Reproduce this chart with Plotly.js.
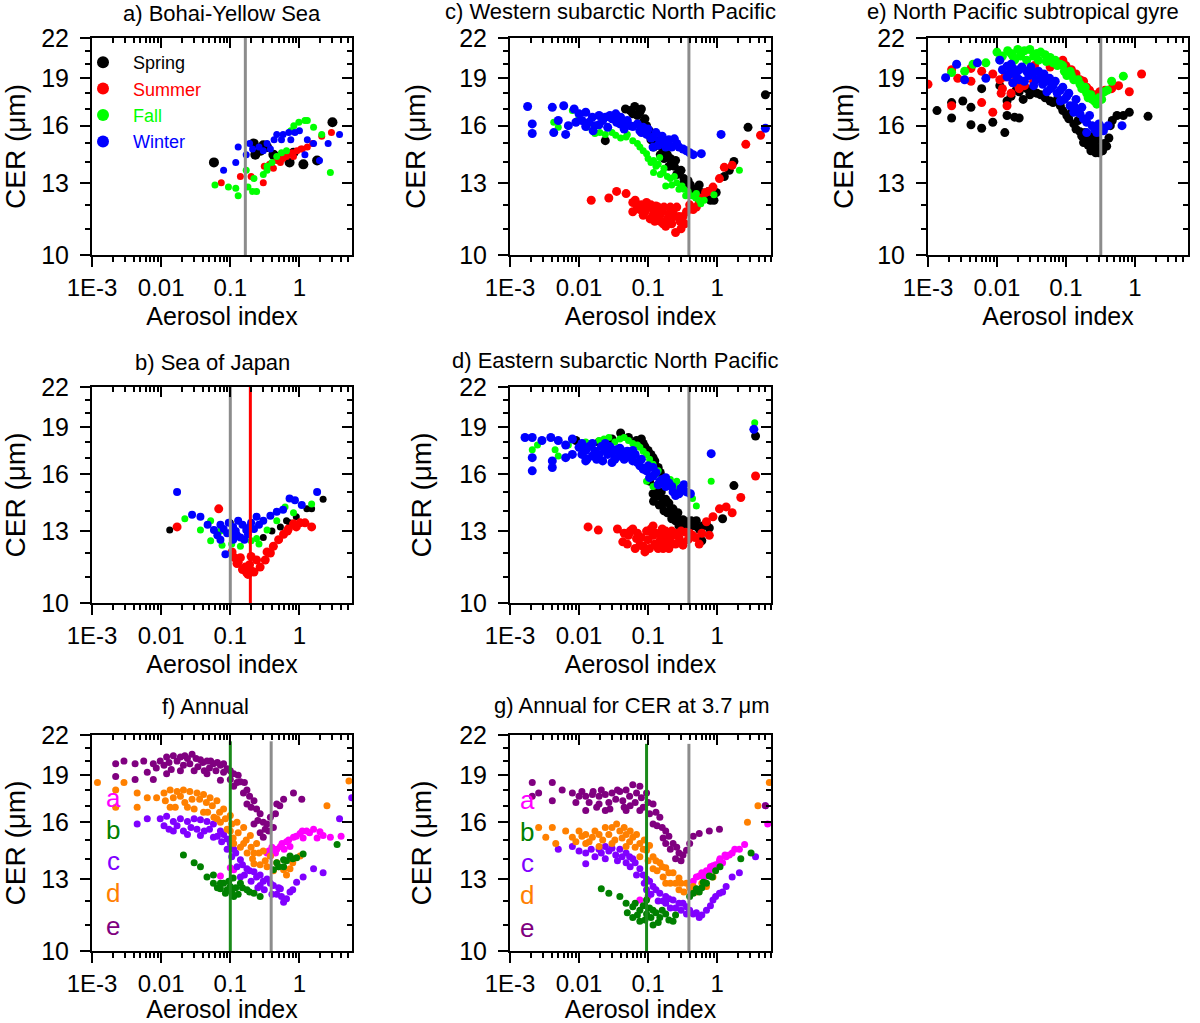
<!DOCTYPE html>
<html>
<head>
<meta charset="utf-8">
<script src="https://cdn.plot.ly/plotly-3.0.1.min.js"></script>
<style>
  body { margin: 0; background: #fff; }
  #chart { width: 1200px; height: 1023px; }
</style>
</head>
<body>
<div id="chart"></div>
<script>
// ---- tick labels / categories ----
const xTickVals = [0.001, 0.01, 0.1, 1];
const xTickText = ['1E-3', '0.01', '0.1', '1'];
const xMinorVals = [0.002, 0.003, 0.004, 0.005, 0.006, 0.007, 0.008, 0.009,
                    0.02, 0.03, 0.04, 0.05, 0.06, 0.07, 0.08, 0.09,
                    0.2, 0.3, 0.4, 0.5, 0.6, 0.7, 0.8, 0.9,
                    2, 3, 4, 5, 6, 7, 8, 9];
const yTickVals = [10, 13, 16, 19, 22];
const yMinorVals = [11, 12, 14, 15, 17, 18, 20, 21];

const seasons = ['Spring', 'Summer', 'Fall', 'Winter'];
const seasonColors = ['#000000', '#ff0000', '#00ff00', '#0000ff'];
const regions = ['a', 'b', 'c', 'd', 'e'];
const regionColors = ['#ff00ff', '#008000', '#8000ff', '#ff8000', '#800080'];

// ---- a) Bohai-Yellow Sea ----
const aSpringX = [0.058, 0.218, 0.23, 0.27, 0.3, 0.34, 0.42, 0.56, 0.72, 0.82, 1.14, 1.8, 3.0];
const aSpringY = [14.0, 15.0, 14.4, 14.6, 14.9, 14.8, 14.4, 14.3, 14.0, 14.5, 13.9, 14.1, 16.2];
const aSummerX = [0.074, 0.14, 0.2, 0.3, 0.31, 0.37, 0.42, 0.47, 0.53, 0.58, 0.65, 0.78, 0.82, 0.92, 1.05, 1.1, 1.3, 1.55, 2.1, 2.9];
const aSummerY = [13.0, 13.3, 13.3, 13.0, 13.8, 13.9, 13.7, 14.1, 14.0, 14.2, 14.3, 14.5, 14.3, 14.6, 14.7, 14.7, 14.8, 15.0, 15.4, 15.6];
const aFallX = [0.06, 0.094, 0.12, 0.13, 0.17, 0.18, 0.21, 0.22, 0.24, 0.3, 0.34, 0.34, 0.4, 0.47, 0.55, 0.65, 0.75, 0.83, 0.98, 1.2, 1.3, 1.6, 2.1, 2.8];
const aFallY = [12.9, 12.8, 12.75, 12.4, 13.6, 12.8, 12.6, 13.2, 12.6, 13.4, 13.6, 13.8, 14.0, 14.3, 14.5, 14.6, 15.7, 16.0, 16.2, 16.3, 16.3, 15.9, 15.5, 13.5];
const aWinterX = [0.08, 0.12, 0.13, 0.17, 0.19, 0.21, 0.26, 0.3, 0.34, 0.38, 0.43, 0.47, 0.55, 0.58, 0.7, 0.75, 0.86, 1.0, 1.2, 1.3, 1.6, 1.95, 2.6, 3.8];
const aWinterY = [13.6, 14.0, 14.8, 14.4, 15.0, 14.7, 14.8, 14.6, 15.0, 14.7, 15.2, 15.5, 15.2, 15.5, 15.6, 15.2, 15.6, 15.7, 14.4, 15.2, 15.0, 14.1, 15.0, 15.5];

// ---- b) Sea of Japan ----
const bSpringX = [0.0133, 0.1, 0.13, 0.3, 0.4, 0.53, 0.65, 0.72, 0.9, 1.28, 1.5, 2.2];
const bSpringY = [13.05, 13.4, 13.5, 12.7, 13.0, 13.2, 13.5, 13.4, 13.7, 14.1, 14.1, 14.6];
const bSummerX = [0.017, 0.068, 0.106, 0.125, 0.14, 0.165, 0.17, 0.2, 0.24, 0.27, 0.32, 0.34, 0.38, 0.42, 0.5, 0.59, 0.67, 0.69, 0.82, 0.9, 1.02, 1.2, 1.5, 0.115, 0.13, 0.15, 0.18, 0.19, 0.22, 0.2];
const bSummerY = [13.2, 14.1, 12.05, 11.55, 11.8, 11.4, 11.2, 11.25, 11.7, 11.4, 11.7, 12.05, 12.0, 12.3, 12.6, 12.85, 13.0, 13.1, 13.35, 13.2, 13.4, 13.4, 13.2, 11.8, 11.6, 11.3, 11.1, 11.5, 11.2, 11.85];
const bFallX = [0.022, 0.037, 0.052, 0.052, 0.072, 0.076, 0.105, 0.14, 0.2, 0.24, 0.26, 0.34, 0.47, 0.62, 0.82, 1.5];
const bFallY = [13.6, 13.05, 13.5, 12.55, 13.0, 12.35, 12.4, 12.3, 12.55, 12.65, 12.4, 13.05, 13.5, 14.2, 13.9, 14.35];
const bWinterX = [0.017, 0.028, 0.037, 0.047, 0.058, 0.065, 0.072, 0.072, 0.085, 0.09, 0.095, 0.11, 0.11, 0.12, 0.125, 0.13, 0.15, 0.16, 0.17, 0.18, 0.2, 0.22, 0.24, 0.3, 0.38, 0.47, 0.58, 0.72, 0.86, 1.08, 1.8, 0.08, 0.1, 0.14, 0.19, 0.26];
const bWinterY = [15.0, 13.8, 13.7, 13.3, 13.05, 12.8, 13.3, 12.6, 11.95, 12.9, 13.4, 13.2, 12.6, 13.0, 12.8, 13.5, 13.3, 12.6, 13.05, 12.85, 13.4, 13.1, 13.7, 13.5, 13.75, 13.95, 14.05, 14.65, 14.55, 14.3, 15.0, 13.1, 12.9, 12.7, 13.2, 13.3];

// ---- c) Western subarctic North Pacific ----
const cSpringX = [0.024, 0.047, 0.06, 0.064, 0.076, 0.09, 0.105, 0.118, 0.13, 0.165, 0.18, 0.21, 0.24, 0.25, 0.28, 0.31, 0.33, 0.38, 0.41, 0.44, 0.55, 0.59, 0.68, 0.8, 0.97, 1.27, 1.5, 1.75, 2.8, 5.0,
  0.055, 0.07, 0.08, 0.085, 0.095, 0.11, 0.12, 0.14, 0.15, 0.17, 0.19, 0.2, 0.22, 0.26, 0.3, 0.35, 0.36, 0.45, 0.5, 0.65, 0.75, 0.9];
const cSpringY = [15.15, 17.0, 16.7, 17.15, 16.8, 16.4, 15.7, 15.45, 15.15, 14.6, 14.8, 14.2, 13.8, 14.1, 13.5, 12.9, 13.2, 13.1, 12.9, 12.45, 12.9, 12.55, 12.45, 12.2, 12.55, 13.3, 13.6, 14.05, 15.9, 17.9,
  16.9, 16.6, 17.0, 16.2, 16.0, 15.2, 14.8, 14.9, 14.4, 14.2, 14.4, 13.8, 13.9, 13.4, 13.6, 12.8, 13.0, 12.7, 12.6, 12.3, 12.6, 12.2];
const cSummerX = [0.015, 0.027, 0.035, 0.048, 0.06, 0.06, 0.076, 0.085, 0.095, 0.107, 0.12, 0.13, 0.148, 0.165, 0.19, 0.23, 0.25, 0.29, 0.3, 0.36, 0.45, 0.55, 0.68, 0.87, 1.08, 1.27, 1.65, 2.6, 4.25,
  0.065, 0.07, 0.08, 0.09, 0.1, 0.11, 0.115, 0.125, 0.14, 0.15, 0.16, 0.17, 0.18, 0.2, 0.21, 0.22, 0.24, 0.26, 0.28, 0.32, 0.34, 0.4, 0.5, 0.6, 0.75];
const cSummerY = [12.2, 12.3, 12.6, 12.5, 12.1, 11.7, 11.8, 11.55, 12.1, 11.4, 11.7, 11.95, 11.55, 11.2, 11.4, 11.7, 10.85, 11.3, 11.0, 11.7, 11.8, 12.1, 12.55, 12.8, 13.2, 13.75, 13.85, 14.95, 15.45,
  12.2, 11.9, 12.0, 11.7, 11.9, 12.0, 11.5, 11.3, 11.9, 11.3, 11.7, 11.9, 11.1, 11.6, 11.9, 11.2, 11.5, 11.9, 11.5, 11.5, 11.2, 12.0, 11.9, 12.3, 12.6];
const cFallX = [0.0043, 0.005, 0.008, 0.01, 0.013, 0.017, 0.024, 0.034, 0.048, 0.06, 0.076, 0.095, 0.12, 0.12, 0.13, 0.147, 0.165, 0.18, 0.21, 0.26, 0.31, 0.38, 0.49, 0.58, 0.9, 2.1,
  0.02, 0.03, 0.04, 0.05, 0.07, 0.085, 0.1, 0.11, 0.14, 0.15, 0.17, 0.19, 0.22, 0.24, 0.28, 0.33, 0.35, 0.42, 0.5, 0.55, 0.65];
const cFallY = [16.2, 15.9, 16.9, 16.5, 15.9, 15.55, 15.5, 15.45, 15.35, 15.15, 14.8, 14.45, 14.1, 13.5, 13.8, 14.25, 13.5, 12.85, 13.2, 13.0, 12.85, 12.6, 12.3, 12.05, 12.45, 13.6,
  15.6, 15.6, 15.3, 15.5, 15.0, 14.6, 14.2, 14.0, 13.9, 13.4, 13.7, 13.3, 12.9, 13.3, 12.7, 12.7, 12.4, 12.4, 12.5, 12.2, 12.2];
const cWinterX = [0.0018, 0.0021, 0.0021, 0.0041, 0.0043, 0.006, 0.0064, 0.0085, 0.01, 0.0125, 0.0125, 0.0156, 0.0195, 0.0195, 0.024, 0.03, 0.034, 0.039, 0.048, 0.06, 0.076, 0.095, 0.118, 0.118, 0.148, 0.18, 0.18, 0.24, 0.28, 0.36, 0.45, 0.59, 1.14, 5.0,
  0.005, 0.007, 0.009, 0.011, 0.014, 0.016, 0.017, 0.022, 0.026, 0.028, 0.035, 0.04, 0.045, 0.05, 0.055, 0.07, 0.08, 0.085, 0.1, 0.11, 0.13, 0.14, 0.16, 0.2, 0.22, 0.26, 0.32, 0.4];
const cWinterY = [17.15, 15.55, 16.1, 17.1, 15.6, 17.2, 15.5, 17.0, 16.7, 16.8, 15.95, 16.5, 16.6, 16.05, 16.5, 16.4, 16.7, 16.1, 16.05, 15.95, 15.7, 15.5, 15.35, 14.8, 15.15, 15.05, 14.8, 15.25, 14.8, 14.6, 14.4, 14.45, 15.5, 15.85,
  16.3, 16.0, 16.2, 16.3, 16.2, 15.7, 16.0, 16.3, 15.9, 16.6, 16.2, 16.5, 15.8, 16.3, 16.0, 16.1, 15.6, 15.9, 15.8, 15.3, 15.6, 14.9, 15.4, 15.2, 14.8, 15.0, 14.7, 14.5];

// ---- d) Eastern subarctic North Pacific ----
const dSpringX = [0.009, 0.0195, 0.03, 0.04, 0.052, 0.068, 0.085, 0.1, 0.105, 0.118, 0.118, 0.13, 0.14, 0.148, 0.165, 0.165, 0.21, 0.24, 0.26, 0.28, 0.32, 0.35, 0.38, 0.48, 0.6, 0.62, 0.77, 1.2, 1.75, 3.6,
  0.12, 0.13, 0.145, 0.155, 0.17, 0.18, 0.19, 0.2, 0.22, 0.23, 0.25, 0.27, 0.3, 0.34, 0.4, 0.42, 0.5, 0.55, 0.7, 0.08, 0.09, 0.11, 0.125, 0.15];
const dSpringY = [18.1, 18.0, 18.2, 18.6, 18.3, 18.1, 17.9, 17.45, 15.6, 17.0, 14.9, 14.9, 16.4, 14.75, 15.8, 14.4, 14.05, 13.7, 13.8, 13.25, 13.55, 13.4, 13.45, 13.25, 12.55, 13.25, 13.15, 13.6, 15.35, 18.4,
  14.5, 15.3, 14.3, 15.0, 14.0, 14.6, 13.9, 14.4, 13.6, 14.1, 13.5, 13.9, 13.4, 13.2, 13.2, 13.5, 13.5, 13.1, 13.3, 18.2, 17.7, 17.2, 16.8, 16.1];
const dSummerX = [0.0135, 0.019, 0.036, 0.043, 0.052, 0.06, 0.068, 0.076, 0.09, 0.095, 0.118, 0.118, 0.148, 0.165, 0.18, 0.21, 0.23, 0.28, 0.32, 0.35, 0.44, 0.55, 0.7, 0.77, 0.87, 1.08, 1.35, 1.65, 2.2, 3.6,
  0.045, 0.05, 0.055, 0.065, 0.07, 0.08, 0.085, 0.1, 0.105, 0.11, 0.125, 0.13, 0.14, 0.155, 0.16, 0.17, 0.19, 0.2, 0.22, 0.25, 0.26, 0.3, 0.3, 0.38, 0.4, 0.48, 0.6];
const dSummerY = [13.2, 13.05, 13.1, 12.5, 12.8, 13.1, 12.65, 12.35, 12.05, 13.0, 12.8, 13.25, 12.55, 12.2, 13.0, 12.5, 12.8, 12.7, 12.35, 12.95, 12.8, 12.4, 13.45, 12.8, 13.7, 14.1, 14.2, 13.9, 14.7, 15.9,
  12.9, 12.4, 13.0, 12.2, 12.9, 12.7, 12.3, 12.6, 12.2, 13.1, 12.4, 12.9, 12.2, 12.8, 13.1, 12.4, 12.7, 12.2, 13.0, 12.4, 12.9, 12.5, 13.0, 12.6, 12.9, 12.7, 12.9];
const dFallX = [0.0021, 0.0025, 0.0045, 0.005, 0.007, 0.0125, 0.0195, 0.027, 0.039, 0.052, 0.076, 0.095, 0.095, 0.118, 0.118, 0.13, 0.165, 0.21, 0.26, 0.32, 0.44, 0.5, 0.82, 3.5,
  0.015, 0.023, 0.033, 0.045, 0.06, 0.07, 0.085, 0.105, 0.14, 0.18, 0.24, 0.28];
const dFallY = [17.5, 17.8, 17.5, 17.1, 17.8, 18.0, 18.1, 18.3, 18.2, 18.1, 17.65, 17.2, 15.6, 16.6, 15.3, 16.0, 15.6, 15.7, 15.6, 15.3, 14.65, 14.25, 15.6, 19.3,
  17.9, 18.2, 18.0, 18.3, 17.9, 17.8, 17.4, 16.9, 16.2, 15.6, 15.4, 15.2];
const dWinterX = [0.00165, 0.0021, 0.0021, 0.0021, 0.0029, 0.0039, 0.0041, 0.0041, 0.005, 0.0064, 0.0064, 0.008, 0.008, 0.01, 0.0125, 0.0125, 0.0156, 0.0156, 0.0195, 0.024, 0.024, 0.03, 0.03, 0.039, 0.039, 0.048, 0.06, 0.06, 0.076, 0.095, 0.118, 0.118, 0.148, 0.18, 0.18, 0.23, 0.28, 0.33, 0.41, 0.82, 3.4,
  0.011, 0.011, 0.013, 0.014, 0.017, 0.018, 0.021, 0.022, 0.026, 0.028, 0.033, 0.035, 0.042, 0.045, 0.05, 0.055, 0.065, 0.07, 0.08, 0.085, 0.1, 0.105, 0.13, 0.14, 0.16, 0.2, 0.22, 0.25, 0.3, 0.36];
const dWinterY = [18.3, 18.3, 17.0, 16.2, 18.1, 18.3, 16.8, 16.4, 18.1, 17.8, 17.0, 18.2, 17.2, 17.65, 17.45, 16.8, 17.1, 17.9, 17.2, 17.45, 17.9, 17.3, 16.7, 17.1, 17.6, 17.0, 16.8, 17.45, 16.5, 16.2, 15.9, 16.4, 15.6, 15.3, 15.8, 15.0, 14.9, 15.4, 14.9, 17.25, 18.85,
  17.9, 17.2, 16.9, 17.7, 17.4, 16.9, 17.7, 16.8, 17.2, 17.7, 16.9, 17.5, 17.4, 16.9, 17.4, 17.1, 17.2, 16.7, 16.9, 16.3, 16.5, 15.8, 16.1, 15.4, 15.7, 15.5, 15.3, 14.8, 15.2, 15.0];

// ---- e) North Pacific subtropical gyre ----
const eSpringX = [0.00135, 0.0022, 0.0022, 0.0032, 0.0042, 0.0042, 0.006, 0.006, 0.0087, 0.011, 0.013, 0.014, 0.014, 0.018, 0.021, 0.021, 0.027, 0.034, 0.043, 0.059, 0.083, 0.103, 0.13, 0.16, 0.18, 0.2, 0.23, 0.26, 0.29, 0.32, 0.39, 0.47, 0.55, 0.68, 0.83, 1.55,
  0.016, 0.019, 0.024, 0.03, 0.038, 0.05, 0.065, 0.075, 0.09, 0.11, 0.12, 0.14, 0.15, 0.17, 0.19, 0.21, 0.22, 0.24, 0.25, 0.27, 0.28, 0.3, 0.34, 0.36, 0.42, 0.44];
const eSpringY = [16.9, 16.45, 17.4, 17.5, 16.05, 17.1, 15.85, 18.3, 16.2, 18.5, 15.6, 16.6, 17.5, 16.5, 16.45, 18.1, 18.3, 18.1, 17.9, 17.5, 17.2, 16.6, 16.1, 15.65, 15.05, 15.25, 14.6, 14.8, 14.6, 14.8, 14.85, 16.3, 16.6, 16.6, 16.8, 16.55,
  17.8, 18.2, 17.6, 17.9, 18.0, 17.7, 17.4, 17.6, 16.9, 16.4, 16.8, 15.8, 16.3, 15.4, 15.6, 14.9, 15.4, 14.7, 15.1, 14.5, 15.2, 14.5, 14.6, 15.0, 15.3, 16.0];
const eSummerX = [0.001, 0.0022, 0.0022, 0.0027, 0.0042, 0.0042, 0.006, 0.006, 0.0087, 0.0087, 0.011, 0.0115, 0.014, 0.017, 0.017, 0.021, 0.034, 0.059, 0.09, 0.12, 0.16, 0.2, 0.26, 0.31, 0.37, 0.46, 0.58, 0.83, 1.25,
  0.07, 0.1, 0.14, 0.18, 0.22, 0.28, 0.035, 0.012, 0.013, 0.016, 0.02, 0.025];
const eSummerY = [18.6, 19.6, 17.2, 19.0, 19.7, 18.8, 19.5, 17.4, 16.8, 19.3, 18.9, 18.0, 17.2, 18.7, 19.3, 18.3, 18.8, 19.8, 20.3, 19.6, 18.9, 18.4, 17.9, 18.1, 18.2, 18.3, 18.5, 18.1, 19.3,
  20.1, 19.9, 19.3, 18.8, 18.2, 17.6, 19.9, 18.3, 19.1, 18.0, 18.6, 18.5];
const eFallX = [0.0022, 0.0034, 0.0045, 0.0069, 0.01, 0.011, 0.0143, 0.017, 0.02, 0.03, 0.034, 0.043, 0.059, 0.065, 0.083, 0.103, 0.115, 0.15, 0.19, 0.23, 0.26, 0.27, 0.3, 0.36, 0.46, 0.68,
  0.012, 0.016, 0.018, 0.022, 0.025, 0.027, 0.038, 0.04, 0.05, 0.052, 0.07, 0.075, 0.09, 0.095, 0.12, 0.13, 0.16, 0.17, 0.2, 0.21, 0.24, 0.28, 0.33, 0.4];
const eFallY = [19.4, 19.5, 20.0, 20.1, 20.9, 20.35, 21.0, 20.6, 21.1, 21.1, 20.6, 20.9, 20.5, 20.1, 20.0, 19.2, 19.5, 18.9, 18.4, 17.9, 17.5, 17.6, 17.7, 18.1, 18.8, 19.15,
  20.6, 20.8, 20.3, 20.6, 21.0, 20.3, 20.8, 20.3, 20.7, 20.2, 20.3, 19.9, 19.9, 19.5, 19.2, 18.9, 18.6, 18.3, 18.0, 17.7, 17.6, 17.3, 17.6, 18.2];
const eWinterX = [0.0018, 0.0026, 0.0034, 0.0052, 0.0069, 0.011, 0.014, 0.014, 0.017, 0.017, 0.021, 0.021, 0.027, 0.034, 0.034, 0.043, 0.053, 0.053, 0.065, 0.083, 0.083, 0.103, 0.13, 0.13, 0.16, 0.2, 0.2, 0.26, 0.31, 0.41, 0.65,
  0.012, 0.015, 0.016, 0.019, 0.023, 0.025, 0.029, 0.031, 0.037, 0.04, 0.046, 0.048, 0.058, 0.06, 0.07, 0.075, 0.09, 0.095, 0.11, 0.115, 0.14, 0.15, 0.17, 0.18, 0.22, 0.24, 0.28, 0.3, 0.35];
const eWinterY = [19.05, 20.0, 18.9, 20.1, 19.0, 20.3, 19.85, 19.1, 19.7, 18.7, 19.6, 18.9, 19.5, 19.4, 18.5, 19.1, 18.8, 18.1, 18.5, 18.2, 17.5, 17.8, 17.2, 16.8, 16.7, 16.2, 15.6, 15.8, 16.0, 16.0, 16.0,
  19.6, 19.3, 20.0, 19.2, 19.8, 18.8, 19.2, 19.8, 18.9, 19.5, 18.6, 19.3, 19.0, 18.3, 18.8, 18.0, 18.4, 17.6, 18.0, 17.2, 17.6, 16.9, 17.1, 16.4, 16.6, 16.0, 15.6, 16.1, 15.7];

// ---- f) Annual (regions a-e) ----
const fAX = [0.072, 0.1, 0.112, 0.34, 0.38, 0.42, 0.47, 0.53, 0.65, 0.73, 0.82, 1.02, 1.13, 1.27, 1.6, 1.8, 1.98, 2.2, 2.8, 4.0,
  0.36, 0.4, 0.45, 0.56, 0.6, 0.7, 0.9, 1.1, 1.4];
const fAY = [13.15, 13.55, 13.45, 14.3, 14.15, 14.4, 14.5, 14.65, 14.9, 14.65, 15.15, 15.35, 15.1, 15.5, 15.6, 15.1, 15.45, 15.25, 15.15, 15.2,
  14.4, 14.6, 14.3, 14.8, 14.5, 15.0, 15.2, 15.5, 15.4];
const fBX = [0.021, 0.03, 0.037, 0.046, 0.057, 0.057, 0.072, 0.072, 0.085, 0.1, 0.11, 0.112, 0.14, 0.174, 0.22, 0.27, 0.42, 0.47, 0.59, 0.59, 0.73, 0.91, 1.13, 3.5,
  0.065, 0.08, 0.09, 0.095, 0.105, 0.12, 0.13, 0.15, 0.19, 0.5, 0.65, 0.8];
const fBY = [14.2, 13.8, 13.6, 13.1, 13.2, 12.8, 12.8, 12.55, 12.35, 12.65, 13.05, 12.2, 12.8, 12.5, 12.35, 12.2, 13.45, 13.8, 13.95, 13.6, 14.15, 14.05, 14.25, 14.75,
  12.6, 12.8, 12.5, 12.9, 12.4, 12.6, 12.3, 12.6, 12.4, 13.6, 13.9, 14.0];
const fCX = [0.0045, 0.0063, 0.0097, 0.012, 0.015, 0.015, 0.019, 0.024, 0.024, 0.03, 0.037, 0.037, 0.046, 0.057, 0.057, 0.072, 0.09, 0.09, 0.112, 0.14, 0.14, 0.174, 0.22, 0.27, 0.27, 0.34, 0.42, 0.47, 0.53, 0.59, 0.73, 0.91, 1.13, 1.6, 2.2, 3.8, 5.7,
  0.011, 0.013, 0.017, 0.021, 0.027, 0.033, 0.042, 0.05, 0.065, 0.075, 0.08, 0.1, 0.105, 0.12, 0.125, 0.15, 0.16, 0.19, 0.2, 0.24, 0.25, 0.3, 0.31, 0.38, 0.4, 0.5, 0.55, 0.65, 0.8];
const fCY = [15.9, 16.2, 16.2, 16.35, 16.05, 15.5, 16.2, 16.05, 15.3, 16.2, 16.15, 15.25, 16.05, 15.9, 15.15, 15.5, 15.05, 14.5, 14.5, 13.95, 13.1, 13.5, 13.35, 13.2, 12.7, 13.0, 12.7, 12.3, 12.55, 11.95, 12.4, 12.85, 13.1, 13.5, 13.3, 16.2, 17.5,
  15.8, 15.6, 15.8, 15.5, 15.7, 15.6, 15.5, 15.6, 15.2, 14.9, 15.3, 14.8, 14.1, 14.3, 13.6, 13.7, 13.2, 13.4, 12.9, 13.1, 12.6, 12.9, 12.5, 12.8, 12.3, 12.6, 12.2, 12.1, 12.5];
const fDX = [0.0012, 0.0022, 0.0022, 0.0029, 0.0045, 0.0045, 0.0063, 0.0086, 0.011, 0.0135, 0.0135, 0.017, 0.021, 0.024, 0.026, 0.033, 0.041, 0.041, 0.051, 0.064, 0.064, 0.08, 0.1, 0.1, 0.112, 0.125, 0.156, 0.156, 0.195, 0.22, 0.22, 0.24, 0.3, 0.34, 0.38, 0.47, 0.59, 0.73, 1.02, 2.5, 5.2,
  0.0115, 0.015, 0.016, 0.019, 0.022, 0.028, 0.03, 0.036, 0.045, 0.047, 0.055, 0.058, 0.07, 0.072, 0.085, 0.09, 0.105, 0.11, 0.13, 0.14, 0.17, 0.175, 0.2, 0.21, 0.26, 0.27, 0.32, 0.42, 0.5, 0.65, 0.8];
const fDY = [18.5, 18.0, 16.9, 18.5, 17.8, 16.9, 17.5, 17.5, 17.8, 18.0, 16.9, 17.9, 18.0, 16.9, 17.9, 17.8, 17.7, 16.6, 17.5, 17.3, 16.2, 16.8, 16.4, 15.5, 14.8, 16.0, 15.7, 14.8, 15.25, 14.3, 13.75, 14.8, 14.4, 13.6, 14.15, 13.8, 13.45, 13.5, 14.15, 17.0, 18.6,
  17.3, 17.5, 16.9, 17.6, 17.2, 17.4, 16.8, 17.4, 17.2, 16.6, 17.0, 16.3, 16.6, 16.0, 16.2, 15.6, 15.9, 15.1, 15.4, 14.6, 15.0, 14.3, 14.6, 14.0, 14.3, 13.7, 13.9, 13.4, 13.6, 13.2, 13.8];
const fEX = [0.0022, 0.0022, 0.0029, 0.0042, 0.0042, 0.0056, 0.0063, 0.0077, 0.0077, 0.0097, 0.012, 0.012, 0.015, 0.019, 0.019, 0.024, 0.028, 0.03, 0.037, 0.046, 0.046, 0.057, 0.072, 0.072, 0.09, 0.112, 0.112, 0.14, 0.174, 0.174, 0.22, 0.22, 0.27, 0.27, 0.3, 0.34, 0.38, 0.42, 0.47, 0.59, 0.82, 1.08,
  0.0085, 0.011, 0.013, 0.014, 0.017, 0.021, 0.022, 0.026, 0.032, 0.034, 0.04, 0.042, 0.05, 0.052, 0.062, 0.065, 0.08, 0.08, 0.1, 0.1, 0.125, 0.13, 0.155, 0.16, 0.19, 0.2, 0.24, 0.25, 0.3, 0.32, 0.36, 0.45, 0.52];
const fEY = [19.8, 18.9, 20.0, 19.8, 18.7, 20.0, 19.2, 19.8, 18.7, 20.0, 20.3, 19.1, 20.4, 20.3, 19.3, 20.2, 20.5, 19.3, 20.1, 20.0, 19.1, 19.8, 19.7, 18.65, 19.45, 19.1, 18.25, 18.55, 18.0, 17.1, 17.3, 15.9, 16.5, 15.4, 15.15, 15.9, 16.3, 15.7, 17.1, 17.4, 17.8, 17.4,
  19.5, 19.7, 19.9, 19.4, 20.0, 19.7, 20.4, 19.8, 20.2, 19.6, 19.9, 19.3, 19.5, 20.0, 19.3, 19.9, 19.2, 19.8, 18.7, 19.3, 18.5, 19.0, 17.8, 18.5, 17.6, 16.9, 16.8, 16.1, 16.0, 15.6, 15.5, 16.5, 17.0];

// ---- g) Annual for CER at 3.7 um ----
const gAX = [0.076, 0.1, 0.45, 0.5, 0.55, 0.7, 0.77, 0.87, 1.08, 1.2, 1.35, 1.65, 2.1, 2.5, 5.4,
  0.6, 0.65, 0.8, 0.95, 1.1, 1.3, 1.5, 1.8];
const gAY = [12.05, 12.2, 12.9, 13.1, 13.15, 13.4, 13.4, 13.65, 13.9, 13.8, 14.1, 14.3, 14.5, 14.75, 15.9,
  13.3, 13.1, 13.6, 13.7, 14.0, 14.2, 14.2, 14.5];
const gBX = [0.021, 0.027, 0.039, 0.048, 0.06, 0.06, 0.076, 0.076, 0.095, 0.095, 0.118, 0.118, 0.148, 0.18, 0.23, 0.4, 0.45, 0.5, 0.63, 0.7, 0.77, 0.95, 2.2, 3.1,
  0.05, 0.065, 0.07, 0.085, 0.09, 0.105, 0.11, 0.13, 0.14, 0.16, 0.2, 0.25, 0.55, 0.6, 0.85, 1.1];
const gBY = [12.55, 12.35, 12.2, 11.9, 11.75, 11.3, 11.6, 11.15, 11.45, 12.05, 11.6, 11.0, 11.3, 11.45, 11.15, 12.2, 12.35, 12.55, 12.85, 12.8, 13.15, 13.4, 14.0, 14.3,
  11.5, 11.9, 11.4, 11.8, 11.2, 11.7, 11.3, 11.5, 11.1, 11.6, 11.2, 11.4, 12.4, 12.6, 13.1, 13.6];
const gCX = [0.005, 0.008, 0.0125, 0.0125, 0.0195, 0.024, 0.024, 0.03, 0.039, 0.048, 0.048, 0.06, 0.076, 0.095, 0.095, 0.118, 0.148, 0.18, 0.18, 0.23, 0.28, 0.36, 0.36, 0.45, 0.55, 0.7, 0.87, 1.08, 1.35, 1.65, 2.1, 3.6, 5.0,
  0.01, 0.015, 0.017, 0.021, 0.027, 0.034, 0.036, 0.042, 0.054, 0.055, 0.065, 0.068, 0.085, 0.088, 0.105, 0.11, 0.13, 0.14, 0.165, 0.2, 0.21, 0.25, 0.3, 0.32, 0.4, 0.5, 0.6, 0.8, 0.95, 1.2];
const gCY = [14.5, 14.65, 14.3, 13.75, 14.5, 14.65, 14.0, 14.55, 14.5, 14.3, 13.8, 14.0, 13.5, 13.0, 12.5, 12.65, 12.35, 12.2, 11.9, 12.05, 11.9, 11.75, 11.45, 11.45, 11.3, 11.6, 12.05, 12.35, 12.65, 13.1, 13.3, 14.1, 17.0,
  14.4, 14.5, 14.1, 14.3, 14.4, 14.2, 13.9, 14.1, 14.1, 13.6, 13.8, 13.2, 13.2, 12.8, 12.9, 12.3, 12.5, 12.0, 12.0, 12.1, 11.7, 11.7, 11.6, 11.9, 11.6, 11.5, 11.4, 11.8, 12.2, 12.4];
const gDX = [0.0026, 0.0033, 0.0041, 0.0046, 0.0064, 0.008, 0.01, 0.0125, 0.0125, 0.0156, 0.0195, 0.0195, 0.024, 0.03, 0.03, 0.039, 0.048, 0.048, 0.06, 0.076, 0.076, 0.095, 0.118, 0.118, 0.148, 0.18, 0.18, 0.23, 0.28, 0.28, 0.36, 0.45, 0.55, 0.7, 0.87, 2.75, 3.9, 5.7,
  0.009, 0.011, 0.014, 0.017, 0.022, 0.027, 0.033, 0.035, 0.042, 0.045, 0.054, 0.055, 0.065, 0.068, 0.085, 0.088, 0.1, 0.105, 0.13, 0.135, 0.16, 0.165, 0.2, 0.21, 0.25, 0.3, 0.33, 0.4, 0.5, 0.6];
const gDY = [15.7, 15.15, 15.7, 14.8, 15.5, 15.15, 15.5, 15.3, 14.8, 15.15, 15.3, 14.65, 15.7, 15.7, 14.8, 15.5, 15.3, 14.65, 15.15, 14.8, 14.1, 14.45, 14.1, 13.5, 13.8, 13.55, 12.8, 13.3, 13.05, 12.5, 12.8, 12.65, 12.5, 12.65, 13.1, 16.0, 17.0, 18.5,
  14.9, 15.2, 14.9, 15.5, 15.0, 15.3, 15.0, 15.9, 15.1, 15.7, 14.9, 15.5, 14.6, 15.3, 14.5, 15.0, 13.9, 14.7, 13.9, 13.4, 13.6, 13.1, 13.3, 12.8, 12.8, 12.8, 12.4, 12.6, 12.4, 12.8];
const gEX = [0.0021, 0.0021, 0.0026, 0.0041, 0.0041, 0.0057, 0.008, 0.01, 0.0125, 0.0125, 0.0156, 0.0195, 0.0195, 0.024, 0.024, 0.03, 0.039, 0.048, 0.048, 0.06, 0.076, 0.076, 0.095, 0.118, 0.118, 0.148, 0.18, 0.18, 0.23, 0.25, 0.28, 0.36, 0.45, 0.55, 0.77, 1.08, 5.0,
  0.009, 0.011, 0.014, 0.016, 0.018, 0.021, 0.027, 0.028, 0.034, 0.036, 0.043, 0.045, 0.054, 0.055, 0.065, 0.068, 0.08, 0.085, 0.1, 0.105, 0.13, 0.135, 0.16, 0.165, 0.2, 0.21, 0.26, 0.3, 0.32, 0.4];
const gEY = [18.5, 17.6, 17.8, 18.5, 17.3, 18.0, 17.8, 17.6, 17.6, 16.7, 17.7, 17.6, 17.1, 17.7, 16.7, 17.8, 17.9, 18.0, 16.7, 18.35, 18.25, 16.7, 17.8, 17.1, 15.9, 16.3, 15.5, 14.8, 14.8, 14.0, 14.3, 14.45, 15.2, 15.35, 15.5, 15.6, 17.0,
  17.2, 17.9, 17.2, 17.9, 16.9, 18.0, 17.2, 16.8, 17.4, 18.0, 17.3, 16.9, 17.6, 17.0, 17.2, 17.8, 17.5, 16.9, 17.2, 16.5, 16.6, 15.8, 15.7, 15.1, 15.2, 14.5, 14.6, 13.9, 14.2, 14.8];

// ---- reference lines (aerosol index) per panel a..g ----
const grayLineX = [0.165, 0.1, 0.39, 0.39, 0.32, 0.39, 0.39];
const redLineX = 0.195;          // panel b
const greenLineX = [0.1, 0.095]; // panels f, g
const lineTopY = [22, 22, 22, 22, 22, 21.5, 21.3];

const W = 1200, H = 1023;
const FONT = 'Liberation Sans, Arial, sans-serif';

// panel boxes in pixels: [left, right, top, bottom]; ys = y title standoff
const panels = [
  { title: 'a) Bohai-Yellow Sea', box: [92, 352, 38, 255], xmax: 0.76, tx: 222, ty: 14, ys: 11 },
  { title: 'b) Sea of Japan', box: [92, 352, 387, 603], xmax: 0.76, tx: 212, ty: 362, ys: 13 },
  { title: 'c) Western subarctic North Pacific', box: [510, 771, 38, 255], xmax: 0.78, tx: 610, ty: 12, ys: 25 },
  { title: 'd) Eastern subarctic North Pacific', box: [510, 771, 387, 603], xmax: 0.78, tx: 615, ty: 360, ys: 19 },
  { title: 'e) North Pacific subtropical gyre', box: [928, 1188, 38, 255], xmax: 0.77, tx: 865, ty: 12, ys: 15, left: true },
  { title: 'f) Annual', box: [92, 352, 735, 951], xmax: 0.76, tx: 205, ty: 706, ys: 14 },
  { title: 'g) Annual for CER at 3.7 \u03bcm', box: [510, 771, 735, 951], xmax: 0.78, tx: 632, ty: 705, ys: 19 }
];

const seasonData = [
  [[aSpringX, aSpringY], [aSummerX, aSummerY], [aFallX, aFallY], [aWinterX, aWinterY]],
  [[bSpringX, bSpringY], [bSummerX, bSummerY], [bFallX, bFallY], [bWinterX, bWinterY]],
  [[cSpringX, cSpringY], [cSummerX, cSummerY], [cFallX, cFallY], [cWinterX, cWinterY]],
  [[dSpringX, dSpringY], [dSummerX, dSummerY], [dFallX, dFallY], [dWinterX, dWinterY]],
  [[eSpringX, eSpringY], [eSummerX, eSummerY], [eFallX, eFallY], [eWinterX, eWinterY]]
];
// marker sizes per panel, per season
const seasonSizes = [[10, 7, 7, 7], [7, 9, 7, 8], [9, 9, 7, 9], [9, 9, 7, 9], [9, 9, 9, 9]];

const annualData = [
  [[fAX, fAY], [fBX, fBY], [fCX, fCY], [fDX, fDY], [fEX, fEY]],
  [[gAX, gAY], [gBX, gBY], [gCX, gCY], [gDX, gDY], [gEX, gEY]]
];
const annualOrder = [0, 2, 3, 4, 1]; // draw order (b on top)

const traces = [];
const layout = {
  width: W, height: H,
  margin: { l: 0, r: 0, t: 0, b: 0 },
  paper_bgcolor: '#fff', plot_bgcolor: 'rgba(0,0,0,0)',
  font: { family: FONT, color: '#000' },
  showlegend: true,
  legend: {
    x: 83 / W, y: 1 - 44 / H, xanchor: 'left', yanchor: 'top',
    bgcolor: 'rgba(0,0,0,0)', font: { family: FONT, size: 18 },
    itemsizing: 'constant', traceorder: 'normal'
  },
  annotations: []
};

function baseAxis(extra) {
  return Object.assign({
    type: 'log', showline: true, linecolor: '#000', linewidth: 2,
    tickcolor: '#000', tickwidth: 2, ticklen: 10,
    showgrid: false, zeroline: false, fixedrange: true
  }, extra);
}

panels.forEach((p, k) => {
  const n = k + 1, m = k + 8;
  const [l, r, t, b] = p.box;
  const xdom = [l / W, r / W];
  const ydom = [1 - b / H, 1 - t / H];
  const xr = [-3, p.xmax], yr = [1, Math.log10(22)];

  layout['xaxis' + n] = baseAxis({
    domain: xdom, range: xr, anchor: 'y' + n, ticks: 'outside',
    tickmode: 'array', tickvals: xTickVals, ticktext: xTickText,
    tickfont: { size: 24 }, ticklabelstandoff: 0,
    minor: { tickmode: 'array', tickvals: xMinorVals, ticks: 'outside', ticklen: 5, tickwidth: 2, tickcolor: '#000', showgrid: false },
    title: { text: 'Aerosol index', font: { size: 25 }, standoff: 8 }
  });
  layout['yaxis' + n] = baseAxis({
    domain: ydom, range: yr, anchor: 'x' + n, ticks: 'outside',
    tickmode: 'array', tickvals: yTickVals, ticktext: yTickVals.map(String),
    tickfont: { size: 25 }, ticklabelstandoff: 6,
    minor: { tickmode: 'array', tickvals: yMinorVals, ticks: 'outside', ticklen: 5, tickwidth: 2, tickcolor: '#000', showgrid: false },
    title: { text: 'CER (\u03bcm)', font: { size: 28 }, standoff: p.ys }
  });
  // mirrored top / right axes with inward ticks
  layout['xaxis' + m] = baseAxis({
    overlaying: 'x' + n, side: 'top', anchor: 'y' + n, range: xr, ticks: 'inside',
    tickmode: 'array', tickvals: xTickVals, showticklabels: false,
    minor: { tickmode: 'array', tickvals: xMinorVals, ticks: 'inside', ticklen: 5, tickwidth: 2, tickcolor: '#000', showgrid: false }
  });
  layout['yaxis' + m] = baseAxis({
    overlaying: 'y' + n, side: 'right', anchor: 'x' + n, range: yr, ticks: 'inside',
    tickmode: 'array', tickvals: yTickVals, showticklabels: false,
    minor: { tickmode: 'array', tickvals: yMinorVals, ticks: 'inside', ticklen: 5, tickwidth: 2, tickcolor: '#000', showgrid: false }
  });

  layout.annotations.push({
    xref: 'paper', yref: 'paper', x: p.tx / W, y: 1 - p.ty / H,
    xanchor: p.left ? 'left' : 'center', yanchor: 'middle', showarrow: false,
    text: p.title, font: { size: 22, family: FONT, color: '#000' }
  });

  const first = k < 5 ? seasonData[k][0] : annualData[k - 5][0];
  // invisible traces so that the mirrored axes get their own subplots
  [['x' + m, 'y' + n], ['x' + n, 'y' + m]].forEach(([xa, ya]) => traces.push({
    type: 'scatter', mode: 'markers', x: first[0], y: first[1], xaxis: xa, yaxis: ya,
    showlegend: false, hoverinfo: 'skip', marker: { opacity: 0, size: 1 }
  }));

  // scatter points
  if (k < 5) {
    seasonData[k].forEach((s, i) => {
      traces.push({
        type: 'scatter', mode: 'markers', x: s[0], y: s[1],
        xaxis: 'x' + n, yaxis: 'y' + n,
        name: '\u00a0\u00a0<span style="color:' + seasonColors[i] + '">' + seasons[i] + '</span>',
        showlegend: k === 0, hoverinfo: 'skip',
        marker: { color: seasonColors[i], size: seasonSizes[k][i], line: { width: 0 } }
      });
    });
  } else {
    annualOrder.forEach(i => {
      const s = annualData[k - 5][i];
      traces.push({
        type: 'scatter', mode: 'markers', x: s[0], y: s[1],
        xaxis: 'x' + n, yaxis: 'y' + n, showlegend: false, hoverinfo: 'skip',
        marker: { color: regionColors[i], size: 7, line: { width: 0 } }
      });
    });
    const lx = (k === 5 ? 113 : 527);
    const ly = (k === 5 ? [798, 830, 861, 893, 926] : [800, 832, 863, 895, 928]);
    regions.forEach((rg, i) => {
      layout.annotations.push({
        xref: 'paper', yref: 'paper', x: lx / W, y: 1 - ly[i] / H,
        xanchor: 'center', yanchor: 'middle', showarrow: false,
        text: rg, font: { size: 26, family: FONT, color: regionColors[i] }
      });
    });
  }

  // vertical reference lines, drawn on top
  const addLine = (xv, color) => traces.push({
    type: 'scatter', mode: 'lines', x: [xv, xv], y: [10, lineTopY[k]],
    xaxis: 'x' + n, yaxis: 'y' + n, showlegend: false, hoverinfo: 'skip',
    line: { color: color, width: 3 }
  });
  if (k >= 5) addLine(greenLineX[k - 5], '#1a8a1a');
  addLine(grayLineX[k], '#8c8c8c');
  if (k === 1) addLine(redLineX, '#ff0000');
});

Plotly.newPlot('chart', traces, layout, { staticPlot: true });
</script>
</body>
</html>
